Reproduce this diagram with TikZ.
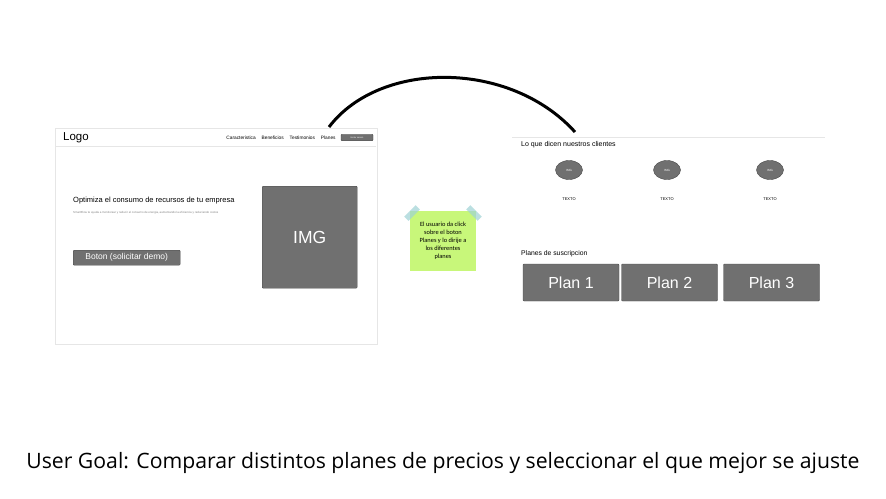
\documentclass[tikz,border=0pt]{standalone}
\usepackage{fontspec}
\setmainfont{Liberation Sans}
\newfontfamily\notefont{Carlito}
\newfontfamily\goalfont{Open Sans}
\usetikzlibrary{positioning, shapes.geometric}
\definecolor{boxgray}{HTML}{707070}
\definecolor{edgegray}{HTML}{4A4A4A}
\definecolor{framegray}{HTML}{E6E6E6}
\definecolor{notegreen}{HTML}{C8F77A}
\definecolor{tapeblue}{HTML}{9ED2D4}
\newcommand{\fs}[1]{\fontsize{#1}{#1}\selectfont}
\tikzset{
    x=1pt, y=-1pt, % one unit is one pixel of the mockup, y runs downwards
    page/.style={draw=framegray, line width=1pt, anchor=north west}, % frames of the web pages
    greybox/.style={draw=edgegray, fill=boxgray, text=white, rounded corners=1pt}, % grey placeholders
    navitem/.style={font=\fs{4.8}, inner sep=0pt}, % links of the header
    avatar/.style={ellipse, draw=edgegray, fill=boxgray, text=white, font=\fs{3}, minimum width=27pt, minimum height=19pt, inner sep=0pt}, % client pictures
    caption/.style={font=\fs{4}, inner sep=0pt}, % text under the pictures
    plan/.style={greybox, font=\fs{16}, minimum width=96pt, minimum height=37pt}, % plan buttons
    tape/.style={fill=tapeblue, opacity=0.7, minimum width=16pt, minimum height=6pt, inner sep=0pt}, % tape of the note
}
\begin{document}
\begin{tikzpicture}
\useasboundingbox (0,0) rectangle (886,498);
% landing page
\node[page, minimum width=322pt, minimum height=216pt] (home) at (55,128) {};
\draw[framegray] (56,146) -- (376,146);
\node[anchor=west, font=\fs{11.5}, inner sep=0pt] (logo) at (63,138) {Logo};
\node[greybox, minimum width=32pt, minimum height=6.5pt, inner sep=0pt, font=\fs{2.2}] (login) at (357,137.5) {Iniciar sesion};
\node[navitem, left=5pt of login] (planes) {Planes};
\node[navitem, left=5.5pt of planes] (testim) {Testimonios};
\node[navitem, left=5.5pt of testim] (benef) {Beneficios};
\node[navitem, left=5.5pt of benef] (caract) {Caracteristica};
\node[anchor=west, font=\fs{7.5}, inner sep=0pt] (hero) at (73,201) {Optimiza el consumo de recursos de tu empresa};
\node[anchor=west, font=\fs{2.9}, inner sep=0pt, text=gray] (herosub) at (73,213) {SmartFlow te ayuda a monitorear y reducir el consumo de energia, aumentando la eficiencia y reduciendo costos};
\node[greybox, minimum width=107pt, minimum height=15pt, inner sep=0pt, font=\fs{8.5}, anchor=north west] (demo) at (73,250) {Boton (solicitar demo)};
\node[greybox, minimum width=95pt, minimum height=102pt, font=\fs{17.5}, anchor=north west] (heroimg) at (262,186) {IMG};
% sticky note
\node[fill=notegreen, minimum width=66pt, minimum height=60pt, align=center, font=\notefont\fontsize{6.4}{8}\selectfont, inner sep=1pt] (note) at (443,241) {El usuario da click\\sobre el boton\\Planes y lo dirije a\\los diferentes\\planes};
\node[tape, rotate=45] (tapel) at (412,213) {};
\node[tape, rotate=-45] (taper) at (474,213) {};
% plans page
\draw[framegray] (512,137) -- (825,137);
\node[anchor=west, font=\fs{7}, inner sep=0pt] (clients) at (521,145) {Lo que dicen nuestros clientes};
\node[avatar] (img1) at (569,170) {IMG};
\node[avatar] (img2) at (667,170) {IMG};
\node[avatar] (img3) at (770,170) {IMG};
\node[caption, below=18pt of img1] (txt1) {TEXTO};
\node[caption, below=18pt of img2] (txt2) {TEXTO};
\node[caption, below=18pt of img3] (txt3) {TEXTO};
\node[anchor=west, font=\fs{6.8}, inner sep=0pt] (plans) at (521,254) {Planes de suscripcion};
\node[plan] (plan1) at (571,282.5) {Plan 1};
\node[plan] (plan2) at (669.5,282.5) {Plan 2};
\node[plan] (plan3) at (771.5,282.5) {Plan 3};
% flow between the pages
\coordinate (planesup) at (329,127);
\coordinate (plandown) at (575,132);
\draw[line width=3pt] (planesup) .. controls (380,60) and (510,60) .. (plandown);
\node[font=\goalfont\fs{21.2}, inner sep=0pt] (goal) at (443,463) {User Goal: Comparar distintos planes de precios y seleccionar el que mejor se ajuste};
\end{tikzpicture}
\end{document}
